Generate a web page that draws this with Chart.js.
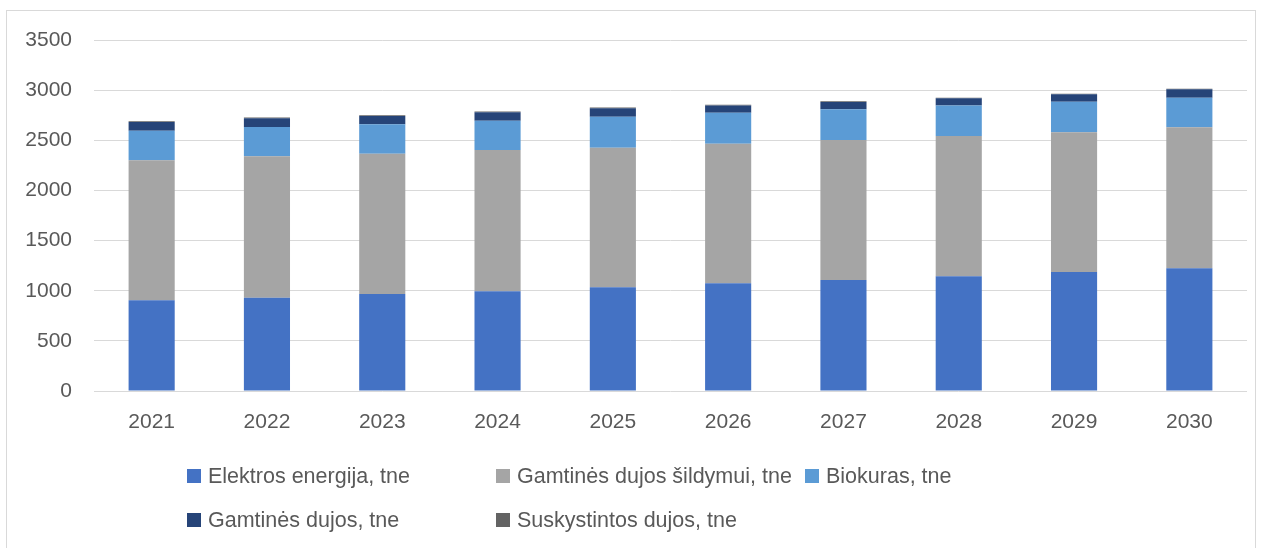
<!DOCTYPE html>
<html>
<head>
<meta charset="utf-8">
<script src="https://cdn.jsdelivr.net/npm/chart.js@4/dist/chart.umd.min.js"></script>
<style>
  html, body { margin: 0; padding: 0; background: #fff; }
  body { width: 1268px; height: 548px; position: relative; overflow: hidden; }
  #frame {
    position: absolute; left: 6px; top: 10px; width: 1250px; height: 560px;
    border: 1px solid #d9d9d9; box-sizing: border-box;
  }
  #wrap { position: absolute; left: 0; top: 0; width: 1268px; height: 460px; }
  #legend {
    position: absolute; left: 187px; top: 454px;
    display: grid; grid-template-columns: 309px 309px 309px; grid-auto-rows: 44px;
    font-family: "Liberation Sans", Arial, sans-serif; font-size: 21.5px; color: #595959;
  }
  #legend .item { display: flex; align-items: center; white-space: nowrap; }
  #legend .box { width: 14px; height: 14px; margin-right: 7px; flex: none; }
</style>
</head>
<body>
<div id="frame"></div>
<div id="wrap"><canvas id="chart"></canvas></div>
<div id="legend"></div>

<script>
// ===============================
// 數據
// ===============================
const years = ["2021", "2022", "2023", "2024", "2025", "2026", "2027", "2028", "2029", "2030"];

const elektros   = [905, 930, 967, 994, 1034, 1074, 1107, 1144, 1187, 1223];
const gamtSild   = [1395, 1410, 1399, 1409, 1392, 1392, 1397, 1398, 1392, 1406];
const biokuras   = [295, 292, 293, 292, 309, 309, 305, 306, 306, 296];
const gamtDujos  = [87, 88, 83, 84, 84, 73, 72, 70, 73, 83];
const suskyst    = [8, 6, 8, 8, 8, 7, 8, 7, 7, 7];

const seriesNames = [
  "Elektros energija, tne",
  "Gamtinės dujos šildymui, tne",
  "Biokuras, tne",
  "Gamtinės dujos, tne",
  "Suskystintos dujos, tne"
];
const seriesColors = ["#4472C4", "#A5A5A5", "#5B9BD5", "#264478", "#636363"];

const yTicks = { min: 0, max: 3500, step: 500 };

// ===============================
// HTML 圖例
// ===============================
const htmlLegend = {
  id: "htmlLegend",
  afterUpdate(chart) {
    const box = document.getElementById("legend");
    box.innerHTML = "";
    chart.data.datasets.forEach(ds => {
      const item = document.createElement("div");
      item.className = "item";
      const sw = document.createElement("span");
      sw.className = "box";
      sw.style.background = ds.backgroundColor;
      const txt = document.createElement("span");
      txt.textContent = ds.label;
      item.appendChild(sw);
      item.appendChild(txt);
      box.appendChild(item);
    });
  }
};

// ===============================
// Chart.js 繪圖
// ===============================
const seriesData = [elektros, gamtSild, biokuras, gamtDujos, suskyst];
const font = { family: "'Liberation Sans', Arial, sans-serif", size: 21 };

new Chart(document.getElementById("chart"), {
  type: "bar",
  data: {
    labels: years,
    datasets: seriesData.map((d, i) => ({
      label: seriesNames[i],
      data: d,
      backgroundColor: seriesColors[i],
      borderWidth: 0,
      categoryPercentage: 1,
      barPercentage: 0.4
    }))
  },
  options: {
    responsive: true,
    maintainAspectRatio: false,
    animation: false,
    layout: { padding: { top: 40, right: 21, left: 0, bottom: 0 } },
    plugins: {
      legend: { display: false },
      tooltip: { enabled: false }
    },
    scales: {
      x: {
        stacked: true,
        grid: { display: false, drawTicks: false },
        border: { display: false },
        ticks: { color: "#595959", font: font, padding: 19 },
        afterFit(scale) { scale.height = 69; }
      },
      y: {
        stacked: true,
        min: yTicks.min,
        max: yTicks.max,
        grid: { color: "#d9d9d9", lineWidth: 1, drawTicks: false },
        border: { display: false },
        ticks: {
          stepSize: yTicks.step, color: "#595959", font: font, padding: 22,
          callback: v => String(v)
        },
        afterFit(scale) { scale.width = 94; }
      }
    }
  },
  plugins: [htmlLegend]
});
</script>
</body>
</html>
